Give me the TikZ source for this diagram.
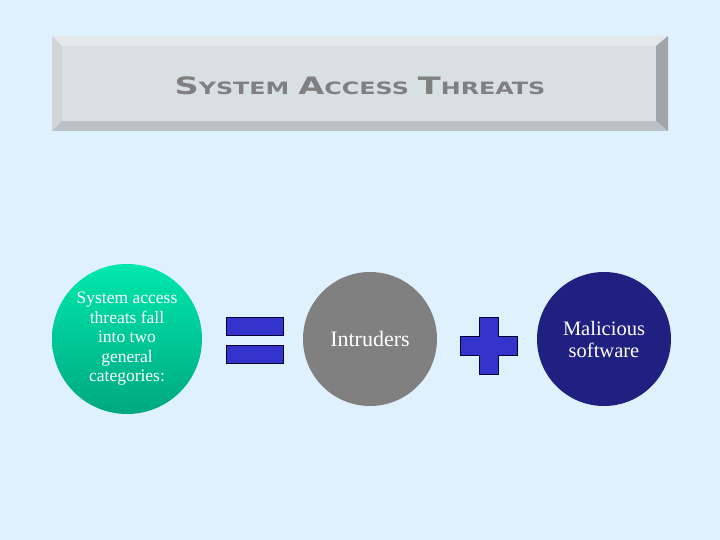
\documentclass[tikz,border=0pt]{standalone}
\usepackage{fontspec}
\setmainfont{Liberation Serif}
\newfontfamily\titlefont{DejaVu Sans}
\usetikzlibrary{positioning}
\definecolor{PageBlue}{RGB}{224,241,254}
\definecolor{FaceGray}{RGB}{217,224,228}
\definecolor{BevelTop}{RGB}{228,232,235}
\definecolor{BevelSide}{RGB}{160,165,170}
\definecolor{BevelBot}{RGB}{186,192,196}
\definecolor{TitleGray}{RGB}{128,128,128}
\definecolor{SeaTop}{RGB}{0,232,172}
\definecolor{SeaBot}{RGB}{0,168,128}
\definecolor{MidGray}{RGB}{128,128,128}
\definecolor{Navy}{RGB}{32,32,128}
\definecolor{SignBlue}{RGB}{52,52,204}
\newcommand{\bigsc}[2]{{\fontsize{24}{24}\selectfont #1}{\fontsize{17}{17}\selectfont #2}}

\begin{document}
\begin{tikzpicture}[x=1pt,y=-1pt,
    disc/.style={circle,inner sep=0pt,text=white,align=center,font=\fontsize{17.5}{19.5}\selectfont},
    sign/.style={fill=SignBlue,draw=black!80!blue,line width=1pt}
  ]
    \useasboundingbox[fill=PageBlue] (0,0) rectangle (720,540);
    % bevelled title plate
    \fill[BevelTop] (52,36) -- (668,36) -- (656,46) -- (62,46) -- cycle;
    \fill[BevelTop!92!black] (52,36) -- (62,46) -- (62,121) -- (52,131) -- cycle;
    \fill[BevelSide] (668,36) -- (668,131) -- (656,121) -- (656,46) -- cycle;
    \fill[BevelBot] (52,131) -- (62,121) -- (656,121) -- (668,131) -- cycle;
    \fill[FaceGray] (62,46) rectangle (656,121);
    \node[text=TitleGray,font=\titlefont\bfseries] (title) at (360,86)
      {\scalebox{1.4}[1]{\bigsc{S}{YSTEM}\hspace{3pt} \bigsc{A}{CCESS}\hspace{3pt} \bigsc{T}{HREATS}}};
    % the three discs
    \node[disc,minimum size=150pt,top color=SeaTop,bottom color=SeaBot] (cats) at (127,339)
      {System access\\threats fall\\into two\\general\\categories:};
    \node[disc,minimum size=134pt,fill=MidGray,font=\fontsize{22}{25}\selectfont] (intr) at (370,339) {Intruders};
    \node[disc,minimum size=134pt,fill=Navy,font=\fontsize{20.5}{22}\selectfont] (mal) at (604,339) {Malicious\\software};
    % equals and plus signs
    \node[sign,minimum width=57pt,minimum height=18pt,inner sep=0pt] (eqtop) at (255,326) {};
    \node[sign,minimum width=57pt,minimum height=18pt,inner sep=0pt,below=9pt of eqtop] (eqbot) {};
    \draw[sign] (479,317) -- (498,317) -- (498,336) -- (517,336) -- (517,355) -- (498,355)
      -- (498,374) -- (479,374) -- (479,355) -- (460,355) -- (460,336) -- (479,336) -- cycle;
\end{tikzpicture}
\end{document}
